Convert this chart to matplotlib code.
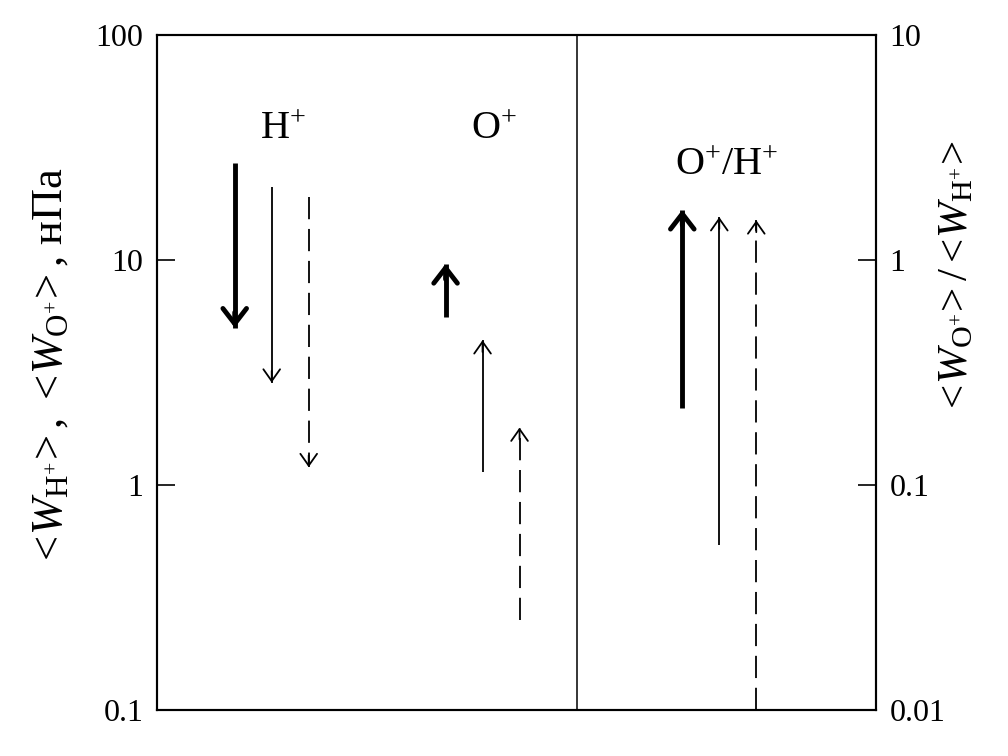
import numpy as np
import matplotlib
matplotlib.use('Agg')
import matplotlib.pyplot as plt

plt.rcParams['font.family'] = ['Liberation Serif', 'DejaVu Serif']
plt.rcParams['mathtext.fontset'] = 'custom'
plt.rcParams['mathtext.rm'] = 'Liberation Serif'
plt.rcParams['mathtext.it'] = 'Liberation Serif:italic'
plt.rcParams['lines.scale_dashes'] = False

# arrows: slot positions, start and end values
h_x = [2.1, 3.1, 4.1]
h_start = [27, 21, 19]
h_end = [5.0, 2.85, 1.2]

o_x = [7.8, 8.8, 9.8]
o_start = [5.6, 1.14, 0.25]
o_end = [9.6, 4.4, 1.8]

r_x = [14.2, 15.2, 16.2]
r_start = [0.22, 0.054, 0.01]
r_end = [1.67, 1.55, 1.5]

divider_x = 11.35

styles = [dict(lw=3.5, ls='-', head=0.85, hl=1.1),
          dict(lw=1.3, ls='-', head=0.6, hl=0.85),
          dict(lw=1.3, ls=(0, (16, 7)), head=0.6, hl=0.85)]

fig = plt.figure(figsize=(10.08, 7.56), dpi=100)
ax = fig.add_axes([0.1558, 0.0608, 0.713, 0.893])
ax2 = ax.twinx()

ax.set_yscale('log')
ax.set_ylim(0.1, 100)
ax.set_xlim(0, 19.43)
ax2.set_yscale('log')
ax2.set_ylim(0.01, 10)


def draw(a, xs, starts, ends):
    for x, s, e, st in zip(xs, starts, ends, styles):
        a.plot([x, x], [s, e], color='black', lw=st['lw'], ls=st['ls'],
               solid_capstyle='butt', dash_capstyle='butt')
        off = st['hl'] * 10
        if e > s:
            off = -off
        a.annotate('', xy=(x, e), xytext=(0, off), textcoords='offset points',
                   arrowprops=dict(arrowstyle='->,head_width=%g,head_length=%g' % (st['head'], st['hl']),
                                   color='black', lw=st['lw'], shrinkA=0, shrinkB=0))


draw(ax, h_x, h_start, h_end)
draw(ax, o_x, o_start, o_end)
draw(ax2, r_x, r_start, r_end)

ax.axvline(divider_x, color='black', lw=1.1)

ax.text(3.4, 38, r'H$^{+}$', fontsize=29, ha='center', va='center')
ax.text(9.1, 38, r'O$^{+}$', fontsize=29, ha='center', va='center')
ax2.text(15.4, 2.64, r'O$^{+}$/H$^{+}$', fontsize=29, ha='center', va='center')

for a in (ax, ax2):
    a.minorticks_off()
    a.set_xticks([])
    for sp in a.spines.values():
        sp.set_linewidth(1.5)

ax.set_yticks([0.1, 1, 10, 100])
ax.set_yticklabels(['0.1', '1', '10', '100'])
ax2.set_yticks([0.01, 0.1, 1, 10])
ax2.set_yticklabels(['0.01', '0.1', '1', '10'])
ax.tick_params(axis='y', direction='in', length=13, width=1.2, labelsize=23, pad=10)
ax2.tick_params(axis='y', direction='in', length=13, width=1.2, labelsize=23, pad=10)

ax.set_ylabel(r'$<\!W_{\mathrm{H}^{+}}\!>$, $<\!W_{\mathrm{O}^{+}}\!>$, нПа', fontsize=32)
ax.yaxis.set_label_coords(-0.12, 0.508)
ax2.set_ylabel(r'$<\!W_{\mathrm{O}^{+}}\!>/<\!W_{\mathrm{H}^{+}}\!>$', fontsize=31, rotation=90)
ax2.yaxis.set_label_coords(1.086, 0.64)

fig.savefig('out.png', dpi=100)
